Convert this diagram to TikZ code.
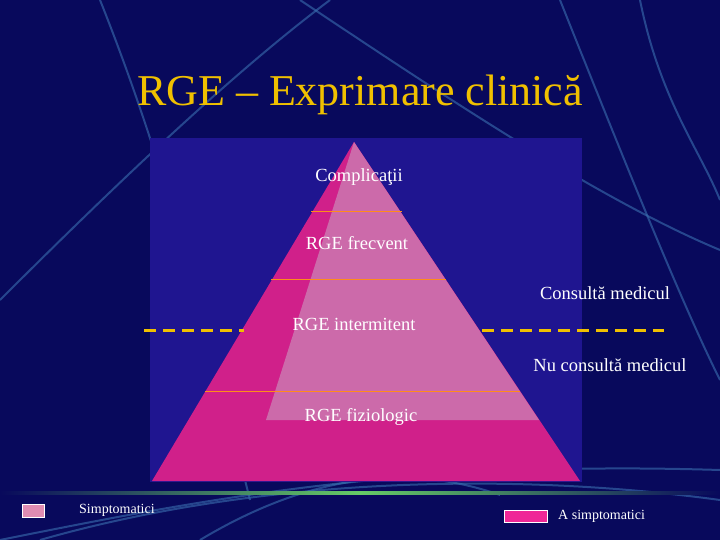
\documentclass[tikz,border=0pt]{standalone}
\usepackage{fontspec}
\setmainfont{Liberation Serif}
\definecolor{bg}{HTML}{08095C}
\definecolor{panel}{HTML}{1F1590}
\definecolor{mag}{HTML}{D0208A}
\definecolor{lpink}{HTML}{CC6AAA}
\definecolor{gold}{HTML}{F0C000}
\definecolor{streak}{HTML}{3A6FB0}
\begin{document}
\begin{tikzpicture}[x=1pt,y=-1pt,
  lbl/.style={text=white,font=\fontsize{18.5}{20}\selectfont,inner sep=1pt},
  legtxt/.style={text=white,font=\fontsize{14}{16}\selectfont,inner sep=1pt,anchor=west},
  sep/.style={draw=orange!90!white,line width=0.8pt},
  dashl/.style={draw=gold,line width=3pt,dash pattern=on 12pt off 7pt}]
\fill[bg] (0,0) rectangle (720,540);
\useasboundingbox (0,0) rectangle (720,540);
% background streaks
\begin{scope}[draw=streak,line width=2pt,opacity=0.6]
\draw (0,300) .. controls (150,150) and (250,60) .. (330,0);
\draw (100,0) .. controls (160,150) and (200,300) .. (250,500);
\draw (300,0) .. controls (450,100) and (600,200) .. (720,250);
\draw (560,0) .. controls (620,150) and (680,300) .. (720,380);
\draw (0,540) .. controls (200,500) and (400,460) .. (720,470);
\draw (40,540) .. controls (250,480) and (500,470) .. (720,500);
\draw (200,540) .. controls (300,480) and (400,460) .. (500,495);
\draw (640,0) .. controls (660,100) and (700,150) .. (720,200);
\end{scope}
\node[text=gold,font=\fontsize{44}{46}\selectfont] (title) at (360,95) {RGE – Exprimare clinică};
\fill[panel] (150,138) rectangle (582,482);
\coordinate (apex) at (354,142);
\fill[mag] (apex) -- (152,481) -- (580,481) -- cycle;
\fill[lpink] (apex) -- (266,420) -- (539,420) -- cycle;
\draw[sep] (311,211) -- (402,211);
\draw[sep] (271,279) -- (446,279);
\draw[sep] (205,391) -- (520,391);
\node[lbl] (c1) at (359,177) {Complicaţii};
\node[lbl] (c2) at (357,243) {RGE frecvent};
\node[lbl] (c3) at (354,324) {RGE intermitent};
\node[lbl] (c4) at (361,417) {RGE fiziologic};
\node[lbl] (cm) at (605,293) {Consultă medicul};
\node[lbl] (nm) at (610,365) {Nu consultă medicul};
\coordinate (d1a) at (144,330); \coordinate (d1b) at (244,330);
\coordinate (d2a) at (482,330); \coordinate (d2b) at (664,330);
\draw[dashl] (d1a) -- (d1b);
\draw[dashl] (d2a) -- (d2b);
\shade[left color=bg,right color=bg,middle color=green!50!gray!80!white] (0,491.5) rectangle (720,494.5);
\draw[draw=white,fill=lpink!60!pink] (22,504) rectangle (44,517);
\node[legtxt] (s) at (78,510) {Simptomatici};
\draw[draw=white,fill=magenta!80!pink] (504,510) rectangle (547,522);
\node[legtxt] (a) at (557,516) {A simptomatici};
\end{tikzpicture}
\end{document}
